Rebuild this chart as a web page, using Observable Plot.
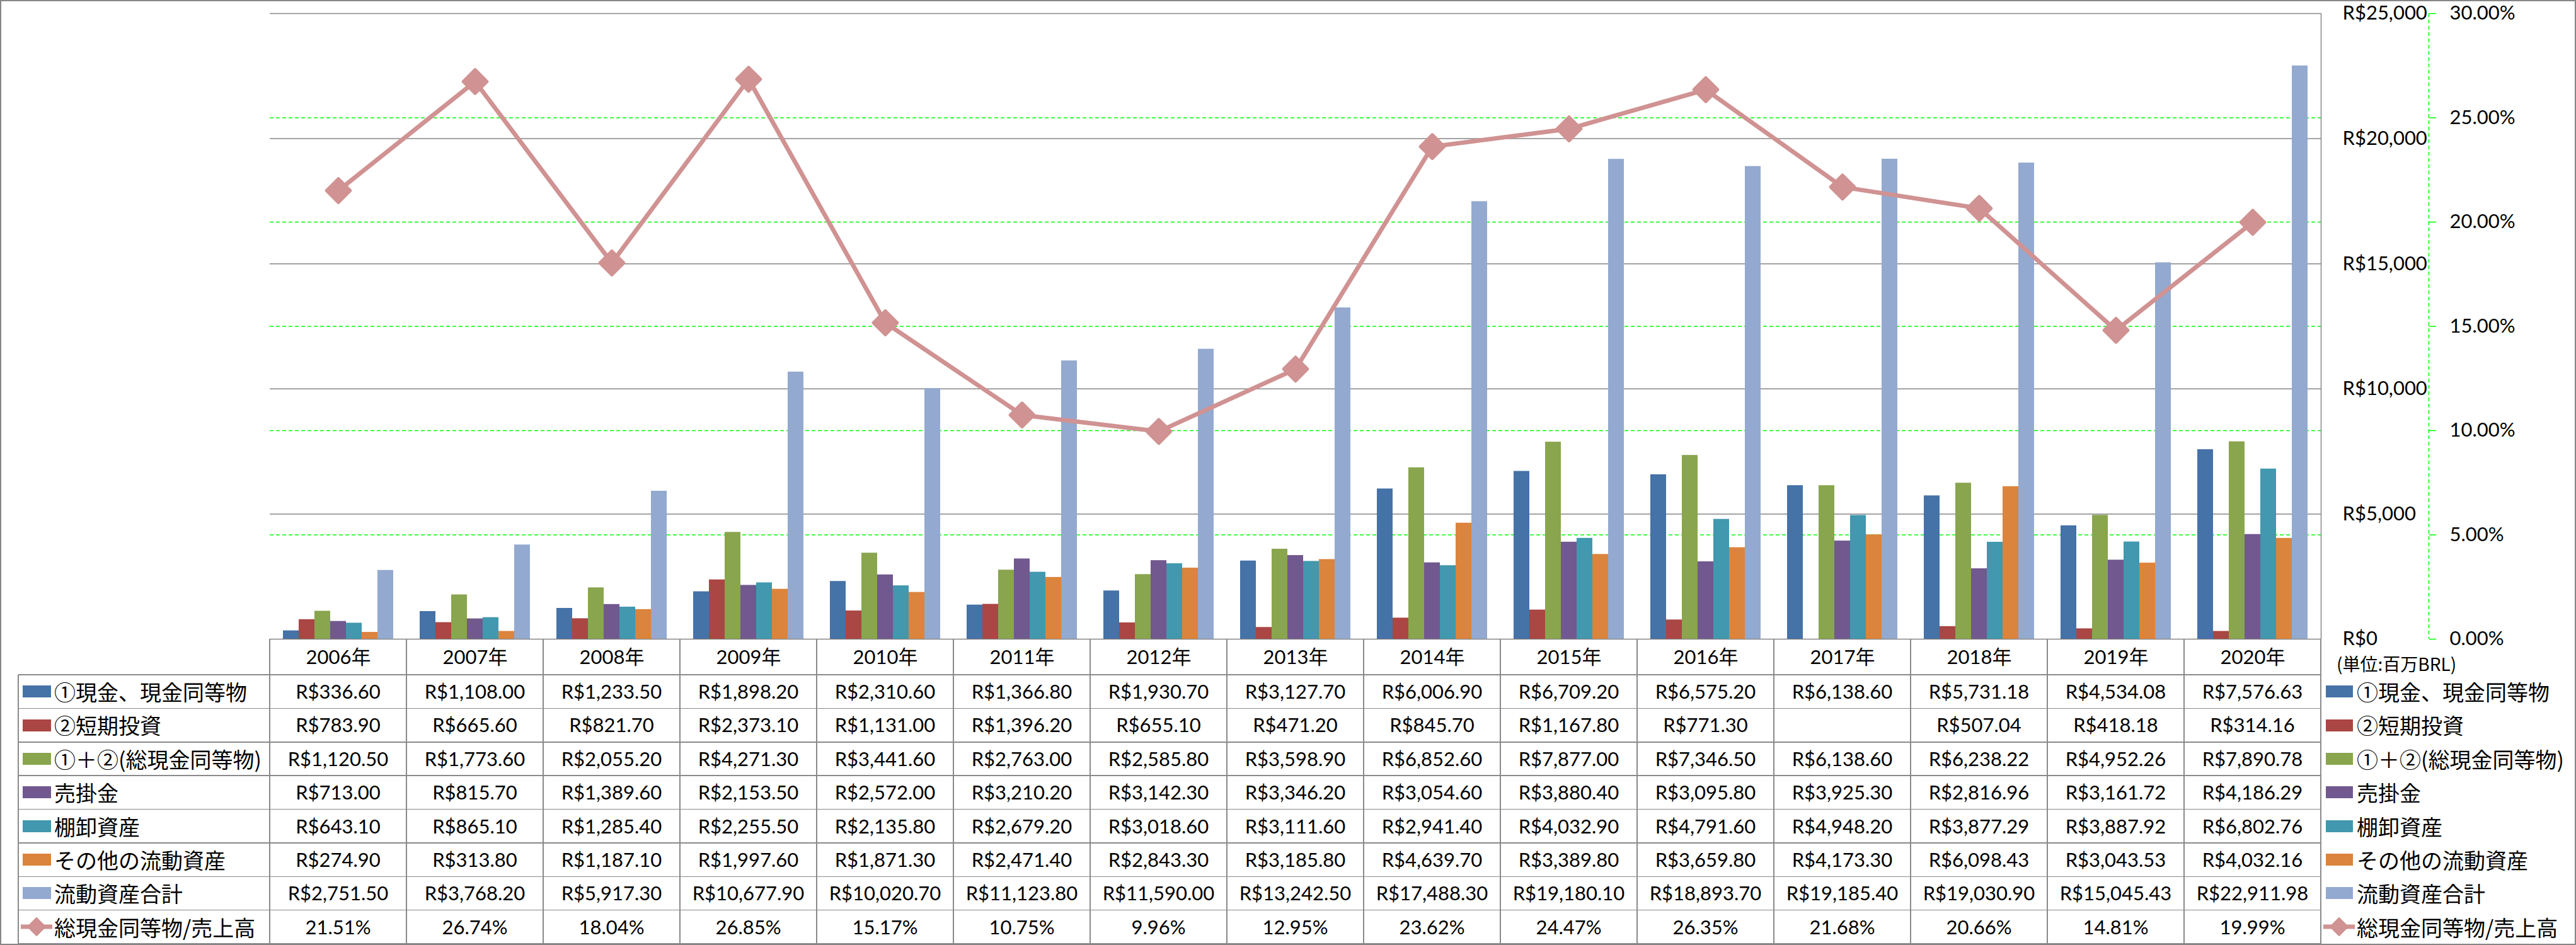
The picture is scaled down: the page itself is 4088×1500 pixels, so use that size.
<!DOCTYPE html>
<html>
<head>
<meta charset="utf-8">
<script src="https://cdn.jsdelivr.net/npm/d3@7"></script>
<script src="https://cdn.jsdelivr.net/npm/@observablehq/plot@0.6"></script>
<style>
html,body{margin:0;padding:0;background:#fff;}
#chart{position:relative;width:4088px;height:1500px;overflow:hidden;background:#fff;}
#chart svg{position:absolute;left:0;top:0;}
.frame{position:absolute;left:0;top:0;width:4088px;height:1500px;box-sizing:border-box;border:2px solid #868686;pointer-events:none;}
.ln{position:absolute;background:#8a8a8a;}
.val{position:absolute;text-align:center;white-space:nowrap;font-family:Lato,"Noto Sans CJK JP",sans-serif;font-size:31px;color:#000;}
.lab{position:absolute;white-space:nowrap;font-family:"Noto Sans CJK JP",sans-serif;font-size:34px;color:#000;}
.sw{position:absolute;}
</style>
</head>
<body>
<div id="chart"></div>
<script>
// ---------------- data ----------------
const years = ["2006年","2007年","2008年","2009年","2010年","2011年","2012年","2013年","2014年","2015年","2016年","2017年","2018年","2019年","2020年"];
const seriesNames = ["①現金、現金同等物","②短期投資","①＋②(総現金同等物)","売掛金","棚卸資産","その他の流動資産","流動資産合計"];
const ratioName = "総現金同等物/売上高";
const cash        = [336.60,1108.00,1233.50,1898.20,2310.60,1366.80,1930.70,3127.70,6006.90,6709.20,6575.20,6138.60,5731.18,4534.08,7576.63];
const shortInv    = [783.90,665.60,821.70,2373.10,1131.00,1396.20,655.10,471.20,845.70,1167.80,771.30,null,507.04,418.18,314.16];
const totalCash   = [1120.50,1773.60,2055.20,4271.30,3441.60,2763.00,2585.80,3598.90,6852.60,7877.00,7346.50,6138.60,6238.22,4952.26,7890.78];
const receivables = [713.00,815.70,1389.60,2153.50,2572.00,3210.20,3142.30,3346.20,3054.60,3880.40,3095.80,3925.30,2816.96,3161.72,4186.29];
const inventory   = [643.10,865.10,1285.40,2255.50,2135.80,2679.20,3018.60,3111.60,2941.40,4032.90,4791.60,4948.20,3877.29,3887.92,6802.76];
const otherAssets = [274.90,313.80,1187.10,1997.60,1871.30,2471.40,2843.30,3185.80,4639.70,3389.80,3659.80,4173.30,6098.43,3043.53,4032.16];
const totalCurrent= [2751.50,3768.20,5917.30,10677.90,10020.70,11123.80,11590.00,13242.50,17488.30,19180.10,18893.70,19185.40,19030.90,15045.43,22911.98];
const ratio       = [0.2151,0.2674,0.1804,0.2685,0.1517,0.1075,0.0996,0.1295,0.2362,0.2447,0.2635,0.2168,0.2066,0.1481,0.1999];
const moneyTicks = [0,5000,10000,15000,20000,25000];
const percentTicks = [0,0.05,0.10,0.15,0.20,0.25,0.30];
const unitNote = "(単位:百万BRL)";

// ---------------- styles ----------------
const seriesColors = ["#4572A7","#AA4643","#89A54E","#71588F","#4198AF","#DB843D","#93A9CF"];
const lineColor = "#D09292";
const gridGrey = "#868686";
const gridGreen = "#00FF00";

const seriesValues = [cash, shortInv, totalCash, receivables, inventory, otherAssets, totalCurrent];
const barRows = [];
years.forEach((yr, i) => seriesValues.forEach((arr, j) => {
  if (arr[i] != null) barRows.push({year: yr, series: seriesNames[j], value: arr[i]});
}));
const ratioRows = years.map((yr, i) => ({year: yr, ratio: ratio[i]}));

// ---------------- layout ----------------
const W = 4088, H = 1500;
const mL = 428, mR = 405, mT = 21, plotBottom = 1014;
const svgH = 1071, mB = svgH - plotBottom;
const base = {width: W, height: svgH, marginLeft: mL, marginRight: mR, marginTop: mT, marginBottom: mB,
  style: {background: "transparent", overflow: "visible", fontFamily: "Lato, 'Noto Sans CJK JP', sans-serif", fontSize: "31px", color: "#000", maxWidth: "none"}};

const root = document.getElementById("chart");

// Layer 1: money grid + money axis + right plot border
root.appendChild(Plot.plot({...base,
  x: {domain: [0, 1], axis: null},
  y: {domain: [0, 25000]},
  marks: [
    Plot.ruleY(moneyTicks, {stroke: gridGrey, strokeWidth: 1.5}),
    Plot.ruleX([1], {stroke: gridGrey, strokeWidth: 1.5}),
    Plot.axisY({ticks: moneyTicks, anchor: "right", tickSize: 0, tickPadding: 34, label: null,
      tickFormat: d => "R$" + d3.format(",")(d)})
  ]
}));

// Layer 2: percent grid + percent axis
root.appendChild(Plot.plot({...base,
  x: {domain: [0, 1], axis: null},
  y: {domain: [0, 0.30]},
  marks: [
    Plot.ruleY(percentTicks.filter(t => t > 0 && t < 0.3), {stroke: gridGreen, strokeWidth: 1.5, strokeDasharray: "6,4"}),
    Plot.ruleX([1], {dx: 171, stroke: gridGreen, strokeWidth: 1.5, strokeDasharray: "6,4"}),
    Plot.axisY({ticks: percentTicks, anchor: "right", tickSize: 11, tickPadding: 22, dx: 171, label: null,
      stroke: gridGreen, strokeWidth: 1.5, tickFormat: d3.format(".2%")})
  ]
}));

// Layer 3: grouped bars
root.appendChild(Plot.plot({...base,
  fx: {domain: years, padding: 0, axis: null},
  x: {domain: seriesNames, paddingInner: 0, paddingOuter: 0.742, axis: null},
  y: {domain: [0, 25000], axis: null},
  color: {domain: seriesNames, range: seriesColors},
  marks: [
    Plot.barY(barRows, {fx: "year", x: "series", y: "value", fill: "series"})
  ]
}));

// Layer 4: ratio line + year labels
root.appendChild(Plot.plot({...base,
  x: {type: "band", domain: years, padding: 0},
  y: {domain: [0, 0.30], axis: null},
  marks: [
    Plot.lineY(ratioRows, {x: "year", y: "ratio", stroke: lineColor, strokeWidth: 7}),
    Plot.dot(ratioRows, {x: "year", y: "ratio", symbol: "diamond2", r: 17, fill: lineColor, stroke: lineColor, strokeWidth: 5, strokeLinejoin: "round"}),
    Plot.axisX({anchor: "bottom", tickSize: 0, tickPadding: 17, label: null})
  ]
}));

// ---------------- data table + legend ----------------
const colW = (W - mL - mR) / years.length;
const tLeft = 29, tTop = 1071, tBottom = 1498;
const rowNames = [...seriesNames, ratioName];
const rowH = (tBottom - tTop) / rowNames.length;
const lw = 1.5;
function el(cls, css, html) {
  const d = document.createElement("div");
  d.className = cls;
  Object.assign(d.style, css);
  if (html != null) d.innerHTML = html;
  root.appendChild(d);
  return d;
}
for (let r = 0; r <= rowNames.length; r++) {
  el("ln", {left: tLeft + "px", top: (tTop + r * rowH - lw / 2) + "px", width: (W - mR - tLeft) + "px", height: lw + "px"});
}
el("ln", {left: (tLeft - lw / 2) + "px", top: tTop + "px", width: lw + "px", height: (tBottom - tTop) + "px"});
for (let k = 0; k <= years.length; k++) {
  el("ln", {left: (mL + k * colW - lw / 2) + "px", top: plotBottom + "px", width: lw + "px", height: (tBottom - plotBottom) + "px"});
}
const fmtMoney = v => v == null ? "" : "R$" + d3.format(",.2f")(v);
const fmtPct = d3.format(".2%");
function lineSymbol(x, cy) {
  el("sw", {left: x + "px", top: (cy - 16) + "px", width: "54px", height: "32px"},
    `<svg width="54" height="32" style="position:static"><line x1="1" y1="16" x2="51" y2="16" stroke="${lineColor}" stroke-width="7"/>` +
    `<polygon points="26,2 40,16 26,30 12,16" fill="${lineColor}" stroke="${lineColor}" stroke-width="2" stroke-linejoin="round"/></svg>`);
}
rowNames.forEach((name, r) => {
  const top = tTop + r * rowH, cy = top + rowH / 2;
  const isRatio = r === seriesNames.length;
  years.forEach((yr, i) => {
    const txt = isRatio ? fmtPct(ratio[i]) : fmtMoney(seriesValues[r][i]);
    el("val", {left: (mL + i * colW) + "px", top: top + "px", width: colW + "px", height: rowH + "px", lineHeight: rowH + "px"}, txt);
  });
  if (isRatio) lineSymbol(32, cy);
  else el("sw", {left: "36px", top: (cy - 9.5) + "px", width: "45px", height: "19px", background: seriesColors[r]});
  el("lab", {left: "86px", top: top + "px", height: rowH + "px", lineHeight: rowH + "px"}, name);
  if (isRatio) lineSymbol(3686, cy);
  else el("sw", {left: "3691px", top: (cy - 9.5) + "px", width: "43px", height: "19px", background: seriesColors[r]});
  el("lab", {left: "3740px", top: top + "px", height: rowH + "px", lineHeight: rowH + "px"}, name);
});
el("lab", {left: "3708px", top: "1035px", fontSize: "28px", lineHeight: "36px"}, unitNote);
el("frame", {});
</script>
</body>
</html>
